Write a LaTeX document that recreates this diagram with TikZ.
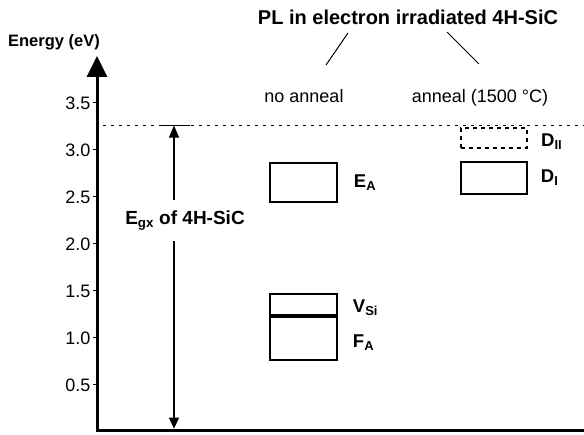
\documentclass[tikz,border=0pt]{standalone}
\usepackage{fontspec}
\setmainfont{Liberation Sans}
\usepackage{tikz}
\usetikzlibrary{arrows.meta,positioning}

\begin{document}
\begin{tikzpicture}[x=1pt, y=94pt,
  txt/.style={font=\fontsize{18}{21}\selectfont, inner sep=0pt},
  btxt/.style={font=\fontsize{18.5}{22}\selectfont\bfseries, inner sep=0pt},
  band/.style={draw, line width=1.5pt, inner sep=0pt, minimum width=67pt},
  gapline/.style={dash pattern=on 3pt off 5pt, line width=1.5pt}]
\useasboundingbox (0,-0.0213) rectangle (584,4.5957);
\node[font=\fontsize{20}{24}\selectfont\bfseries, inner sep=0pt, anchor=base] (title) at (408,4.33) {PL in electron irradiated 4H-SiC};
\node[font=\fontsize{16.5}{20}\selectfont\bfseries, inner sep=0pt, anchor=base] (ylab) at (54,4.106) {Energy (eV)};
\node[txt, anchor=base] (noann) at (304,3.50) {no anneal};
\node[txt, anchor=base] (ann) at (480,3.50) {anneal (1500 °C)};
\coordinate (la) at (348,4.245);
\coordinate (lb) at (326,3.904);
\coordinate (ra) at (447,4.255);
\coordinate (rb) at (479,3.915);
\draw[line width=1pt] (la) -- (lb);
\draw[line width=1pt] (ra) -- (rb);
\coordinate (origin) at (97,0.02);
\coordinate (xend) at (584,0.02);
\coordinate (ytop) at (97,4.0);
\draw[line width=3pt, -{Triangle[length=21pt,width=20pt]}] (xend) -- (origin) -- (ytop);
\foreach \e in {0.5,1.0,1.5,2.0,2.5,3.0,3.5}
  \draw[line width=1pt] (93,\e) -- (97,\e) node[txt, anchor=east, xshift=-6pt] {\e};
\draw[gapline] (103,3.26) -- (584,3.26);
\coordinate (gtop) at (174,3.26);
\coordinate (gbot) at (174,0.036);
\draw[line width=1.5pt] (162,3.26) -- (190,3.26);
\node[btxt, font=\fontsize{19}{22}\selectfont\bfseries, inner ysep=11pt] (egx) at (185,2.25) {E\textsubscript{gx} of 4H-SiC};
\draw[line width=1.2pt, -{Triangle[length=12pt,width=10pt]}] (gtop |- egx.north) -- (gtop);
\draw[line width=1.2pt, -{Triangle[length=11pt,width=10pt]}] (gtop |- egx.south) -- (gbot);
\node[band, minimum height=39pt] (ea) at (303.5,2.654) {};
\node[band, minimum height=21pt] (vsi) at (303.5,1.356) {};
\node[band, minimum height=43pt] (fa) at (303.5,0.995) {};
\draw[line width=3pt] (vsi.south west) -- (vsi.south east);
\node[band, minimum width=66pt, minimum height=32pt] (di) at (494,2.702) {};
\node[band, minimum width=66pt, minimum height=20pt, line width=2pt, dash pattern=on 4pt off 4pt] (dii) at (494,3.128) {};
\node[btxt, right=16pt of ea] (ealab) {E\textsubscript{A}};
\node[btxt, right=15pt of vsi, yshift=-3pt] (vsilab) {V\textsubscript{Si}};
\node[btxt, right=15pt of fa, yshift=-4pt] (falab) {F\textsubscript{A}};
\node[btxt, right=13pt of di] (dilab) {D\textsubscript{I}};
\node[btxt, right=13pt of dii, yshift=-4pt] (diilab) {D\textsubscript{II}};
\end{tikzpicture}
\end{document}
